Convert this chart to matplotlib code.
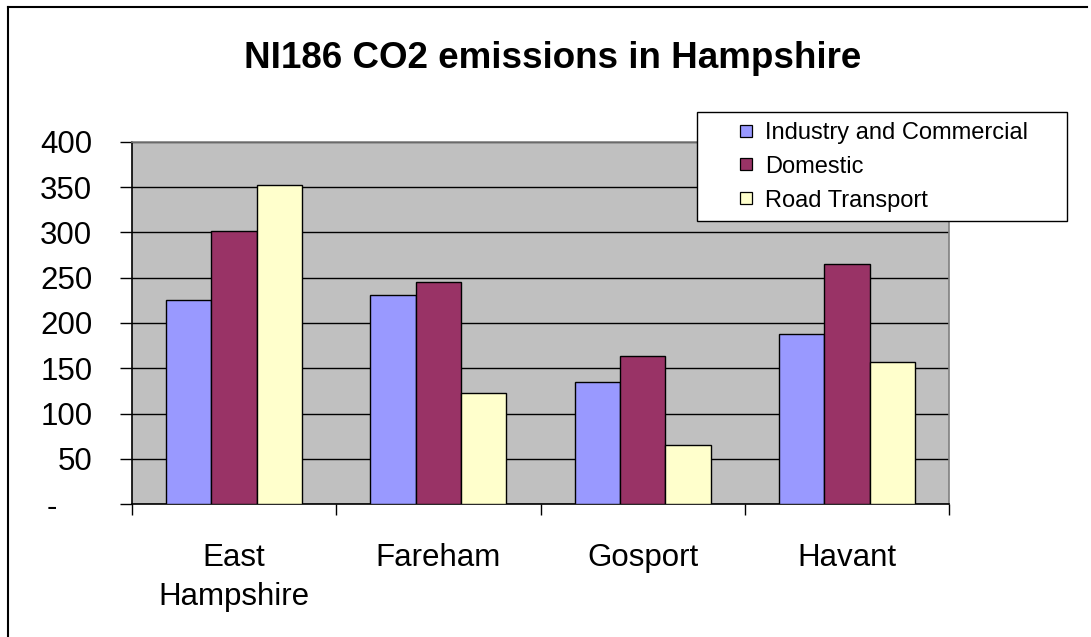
import matplotlib
matplotlib.use("Agg")
import matplotlib.pyplot as plt
from matplotlib.lines import Line2D
import numpy as np

plt.rcParams['font.family'] = ['Liberation Sans', 'DejaVu Sans']

categories = ['East\nHampshire', 'Fareham', 'Gosport', 'Havant']
industry = [225, 231, 135, 188]
domestic = [301, 245, 164, 265]
road = [352, 123, 65, 157]
series_names = ['Industry and Commercial', 'Domestic', 'Road Transport']
colors = ['#9999FF', '#993366', '#FFFFCC']
yticks = [0, 50, 100, 150, 200, 250, 300, 350, 400]
ytick_labels = ['-    ', '50', '100', '150', '200', '250', '300', '350', '400']

W, H = 1091, 637
fig = plt.figure(figsize=(W / 100, H / 100), dpi=100)
ax = fig.add_axes([131.7 / W, 1 - 504.3 / H, (949.3 - 131.7) / W, (504.3 - 141.7) / H])
ax.set_facecolor('#C0C0C0')

x = np.arange(len(categories)) + 0.5
bw = 0.222
for k, (vals, c) in enumerate(zip([industry, domestic, road], colors)):
    ax.bar(x + (k - 1) * bw, vals, width=bw, color=c, edgecolor='black', linewidth=1.0, zorder=3)

ax.set_xlim(0, 4)
ax.set_ylim(0, 400)
ax.set_yticks(yticks)
ax.set_yticklabels(ytick_labels, fontsize=22.5)
ax.yaxis.grid(True, color='black', linewidth=1.0)
ax.set_axisbelow(True)
ax.tick_params(axis='y', length=8.4, width=1.0, pad=20, direction='out')

ax.set_xticks(x)
ax.set_xticklabels(categories, fontsize=22.5, linespacing=1.4)
ax.set_xticks(np.arange(0, 5), minor=True)
ax.tick_params(axis='x', which='major', length=0, pad=28)
ax.tick_params(axis='x', which='minor', length=8, width=1.0, direction='out')

for s in ['left', 'bottom']:
    ax.spines[s].set_color('black')
    ax.spines[s].set_linewidth(1.2)
for s in ['top', 'right']:
    ax.spines[s].set_color('#808080')
    ax.spines[s].set_linewidth(1.2)

fig.text(553 / W, 1 - 68 / H, 'NI186 CO2 emissions in Hampshire', ha='center', va='baseline',
         fontsize=26.5, fontweight='bold')

handles = [Line2D([], [], marker='s', linestyle='none', markersize=8, markerfacecolor=c,
                  markeredgecolor='black', markeredgewidth=0.9) for c in colors]
leg = fig.legend(handles, series_names, loc='upper left',
                 bbox_to_anchor=(697 / W, 1 - 219 / H, (1067 - 697) / W, (219 - 112) / H),
                 mode='expand', borderaxespad=0, fontsize=17, frameon=True, fancybox=False,
                 borderpad=0.42, handlelength=3.3, handletextpad=-0.84, labelspacing=0.5)
leg.get_frame().set_edgecolor('black')
leg.get_frame().set_linewidth(1.0)
leg.get_frame().set_alpha(1)

# outer chart frame
fig.add_artist(Line2D([8 / W, 1087 / W], [1 - 6.7 / H, 1 - 6.7 / H], color='black', lw=1.5,
                      transform=fig.transFigure))
fig.add_artist(Line2D([8 / W, 8 / W], [1 - 6.7 / H, 0], color='black', lw=1.5,
                      transform=fig.transFigure))

fig.savefig('out.png', dpi=100)
